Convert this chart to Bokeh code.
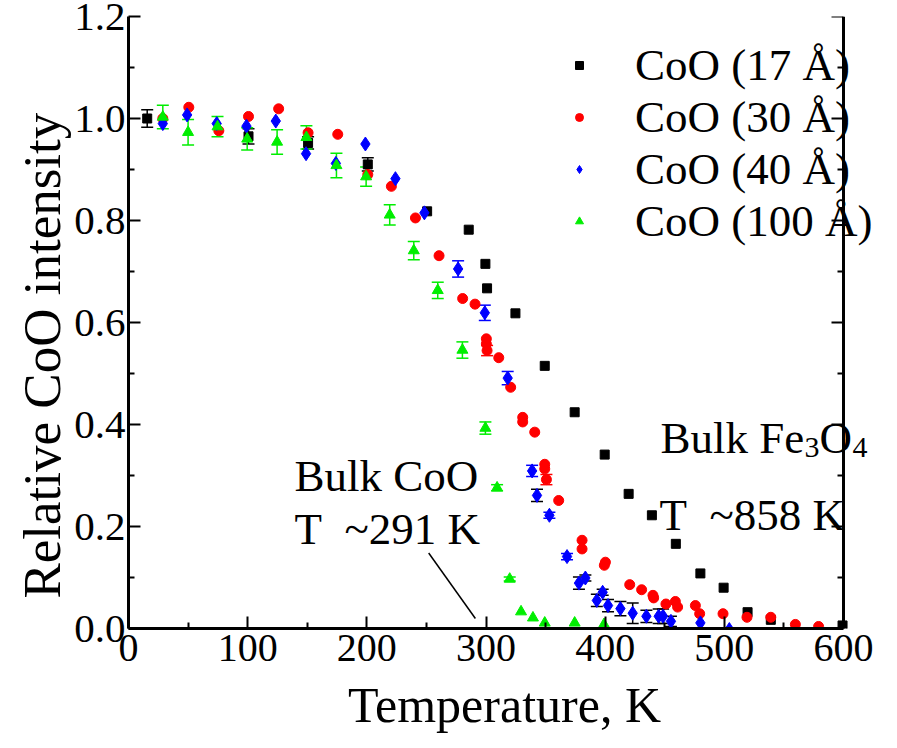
from bokeh.plotting import figure
from bokeh.models import (Range1d, NumeralTickFormatter, FixedTicker, Span,
                          ColumnDataSource, Whisker, TeeHead, Legend, LegendItem, Label)
from bokeh.embed import file_html
from bokeh.resources import INLINE

# ---------------- data ----------------
t17 = [15.7, 100.7, 150.7, 200.8, 250.6, 285.5, 299.5, 300.9, 324.7, 349.3, 374.4, 399.6,
       419.7, 439.2, 459.3, 479.9, 499.4, 519.5, 539.0, 599.2]
i17 = [1.0, 0.965, 0.952, 0.91, 0.818, 0.782, 0.715, 0.667, 0.618, 0.515, 0.424, 0.341,
       0.264, 0.222, 0.166, 0.108, 0.08, 0.032, 0.017, 0.006]
e17 = [0.017, 0.015, 0.012, 0.013, 0, 0, 0, 0, 0, 0, 0, 0,
       0, 0, 0, 0, 0, 0, 0, 0]

t30 = [28.8, 50.6, 75.8, 100.7, 126.0, 150.7, 175.6, 200.8, 220.6, 240.8, 260.6, 280.4,
       290.8, 300.3, 300.3, 300.9, 310.7, 320.7, 330.8, 330.8, 340.9, 349.3, 349.3, 350.7,
       361.0, 380.6, 380.6, 400.2, 399.3, 420.6, 430.6, 440.1, 440.7, 451.0, 458.9, 460.8,
       475.7, 479.3, 498.9, 519.0, 539.0, 559.6, 579.1]
i30 = [1.0, 1.022, 0.976, 1.004, 1.019, 0.972, 0.969, 0.89, 0.867, 0.805, 0.731, 0.647,
       0.636, 0.568, 0.558, 0.545, 0.531, 0.473, 0.414, 0.405, 0.385, 0.322, 0.313, 0.292,
       0.251, 0.173, 0.156, 0.13, 0.124, 0.086, 0.076, 0.065, 0.06, 0.048, 0.053, 0.042,
       0.045, 0.029, 0.029, 0.022, 0.022, 0.008, 0.004]
e30 = [0, 0, 0, 0, 0, 0, 0, 0, 0, 0, 0, 0,
       0, 0, 0, 0.01, 0, 0, 0, 0, 0, 0, 0, 0.01,
       0, 0, 0, 0, 0, 0, 0, 0, 0, 0, 0, 0,
       0, 0, 0, 0, 0, 0, 0]

t40 = [28.8, 49.2, 74.0, 99.0, 123.6, 149.0, 174.0, 198.8, 224.0, 248.3, 276.6, 299.0,
       318.2, 338.7, 342.8, 353.2, 368.0, 378.0, 383.4, 393.0, 397.9, 402.4, 412.8, 423.1,
       434.6, 444.9, 448.6, 455.2, 479.9, 504.2]
i40 = [0.99, 1.007, 0.99, 0.985, 0.995, 0.931, 0.912, 0.95, 0.882, 0.815, 0.705, 0.619,
       0.491, 0.309, 0.261, 0.222, 0.141, 0.089, 0.099, 0.055, 0.071, 0.045, 0.039, 0.03,
       0.024, 0.024, 0.024, 0.014, 0.011, -0.002]
e40 = [0, 0, 0, 0, 0, 0, 0, 0, 0, 0, 0.016, 0.015,
       0.013, 0.011, 0.012, 0.006, 0.006, 0.012, 0.006, 0.012, 0.006, 0.012, 0.014, 0.02,
       0.012, 0.014, 0.014, 0.01, 0, 0]

t100 = [28.8, 50.0, 74.7, 99.6, 124.7, 149.3, 174.5, 199.4, 219.2, 239.4, 259.5, 280.2,
        299.5, 309.3, 319.9, 329.4, 339.4, 349.3, 374.4, 399.0]
i100 = [1.003, 0.973, 0.984, 0.96, 0.954, 0.963, 0.908, 0.886, 0.811, 0.741, 0.663, 0.546,
        0.393, 0.276, 0.097, 0.033, 0.021, 0.011, 0.011, 0.008]
e100 = [0.023, 0.025, 0.02, 0.022, 0.024, 0.023, 0.024, 0.019, 0.02, 0.018, 0.016, 0.016,
        0.012, 0.006, 0.004, 0, 0, 0, 0, 0]

labels = ["CoO (17 Å)", "CoO (30 Å)", "CoO (40 Å)", "CoO (100 Å)"]
xticks = [0, 100, 200, 300, 400, 500, 600]
yticks = [0.0, 0.2, 0.4, 0.6, 0.8, 1.0, 1.2]

FONT = "Liberation Serif"

XMAX = xticks[-1]
YMAX = yticks[-1]
xminor = [(a + b) / 2 for a, b in zip(xticks[:-1], xticks[1:])]
yminor = [(a + b) / 2 for a, b in zip(yticks[:-1], yticks[1:])]

# frame: x=0 at 128 px, x=600 at 843 px; frame runs on to 880 px so texts are not clipped
PX_PER_X = 715.0 / XMAX
frame_w = 752
p = figure(width=881, height=740, output_backend="svg", toolbar_location=None,
           x_range=Range1d(0, frame_w / PX_PER_X), y_range=Range1d(0, YMAX),
           min_border_left=128, min_border_right=1, min_border_top=16, min_border_bottom=112)
p.background_fill_color = "white"
p.border_fill_color = "white"
p.outline_line_color = None
p.xgrid.visible = False
p.ygrid.visible = False


def style_axis(ax, size):
    ax.axis_line_width = 3
    ax.axis_line_color = "black"
    ax.major_tick_in = 12
    ax.major_tick_out = 0
    ax.minor_tick_in = 6
    ax.minor_tick_out = 0
    ax.major_tick_line_width = 2
    ax.minor_tick_line_width = 2
    ax.major_tick_line_color = "black"
    ax.minor_tick_line_color = "black"
    ax.major_label_text_font = FONT
    ax.major_label_text_font_size = size
    ax.major_label_text_color = "black"
    ax.axis_label_text_font = FONT
    ax.axis_label_text_font_style = "normal"
    ax.axis_label_text_color = "black"


p.xaxis.ticker = FixedTicker(ticks=xticks, minor_ticks=xminor)
p.yaxis.ticker = FixedTicker(ticks=yticks, minor_ticks=yminor)
p.yaxis.formatter = NumeralTickFormatter(format="0.0")
p.xaxis.axis_label = "Temperature, K"
# trailing no-break spaces push the rotated label down, as in the original
p.yaxis.axis_label = "Relative CoO intensity" + "\u00a0" * 5
style_axis(p.xaxis[0], "40px")
style_axis(p.yaxis[0], "41px")
p.xaxis.bounds = (0, XMAX)
p.xaxis.axis_label_text_font_size = "50px"
p.yaxis.axis_label_text_font_size = "53px"
p.xaxis.major_label_standoff = 6
p.yaxis.major_label_standoff = 3
p.xaxis.axis_label_standoff = 13
p.yaxis.axis_label_standoff = 0

# right-hand axis at x = 600 with inward ticks
p.add_layout(Span(location=XMAX, dimension="height", line_color="black", line_width=3))
tick_major = 12 / PX_PER_X
tick_minor = 6 / PX_PER_X
p.segment(x0=[XMAX] * len(yticks), x1=[XMAX - tick_major] * len(yticks), y0=yticks, y1=yticks,
          line_color="black", line_width=2)
p.segment(x0=[XMAX] * len(yminor), x1=[XMAX - tick_minor] * len(yminor), y0=yminor, y1=yminor,
          line_color="black", line_width=2)


# ---------------- error bars ----------------
def add_err(xs, ys, es, color, sel=None):
    bx, up, lo = [], [], []
    for x, y, e in zip(xs, ys, es):
        if e > 0 and (sel is None or sel(x)):
            bx.append(x); up.append(y + e); lo.append(y - e)
    if not bx:
        return
    src = ColumnDataSource(dict(x=bx, upper=up, lower=lo))
    w = Whisker(source=src, base="x", upper="upper", lower="lower",
                line_color=color, line_width=1.5,
                upper_head=TeeHead(size=12, line_color=color, line_width=1.5),
                lower_head=TeeHead(size=12, line_color=color, line_width=1.5))
    p.add_layout(w)


add_err(t17, i17, e17, "black")
add_err(t30, i30, e30, "#ff0000")
add_err(t40, i40, e40, "#0000ff", sel=lambda x: x < 340 or 350 < x < 372)
add_err(t40, i40, e40, "black", sel=lambda x: not (x < 340 or 350 < x < 372))
add_err(t100, i100, e100, "#00ee00")

# ---------------- markers ----------------
r17 = p.scatter(t17, i17, marker="square", size=9, color="black")
r30 = p.scatter(t30, i30, marker="circle", size=10, color="#ff0000")
r40 = p.scatter(t40, i40, marker="diamond", size=14, color="#0000ff")
r100 = p.scatter(t100, i100, marker="triangle", size=11, color="#00ee00")

legend = Legend(items=[LegendItem(label=labels[0], renderers=[r17]),
                       LegendItem(label=labels[1], renderers=[r30]),
                       LegendItem(label=labels[2], renderers=[r40]),
                       LegendItem(label=labels[3], renderers=[r100])],
                location=(441, 381), padding=0, margin=0, spacing=0,
                glyph_width=20, glyph_height=52, label_height=52, label_standoff=46,
                label_text_font=FONT, label_text_font_size="45px", label_text_color="black",
                border_line_color=None, background_fill_alpha=0)
p.add_layout(legend)

# ---------------- annotations ----------------
p.segment(x0=[251.9], y0=[0.148], x1=[291.1], y1=[0.0196], line_color="black", line_width=1.5)


def lab(x, y, text, size="45px"):
    p.add_layout(Label(x=x, y=y, text=text, text_font=FONT, text_font_size=size,
                       text_color="black", text_align="left", text_baseline="alphabetic"))


lab(139.3, 0.300, "Bulk CoO")
lab(139.3, 0.196, "T\u00a0\u00a0~291 K")
lab(446.4, 0.3745, "Bulk Fe")
lab(567.3, 0.355, "3", "30px")
lab(579.9, 0.3745, "O")
lab(607.6, 0.355, "4", "30px")
lab(445.6, 0.2235, "T\u00a0\u00a0~858 K")

open("out.html", "w").write(file_html(p, INLINE))
